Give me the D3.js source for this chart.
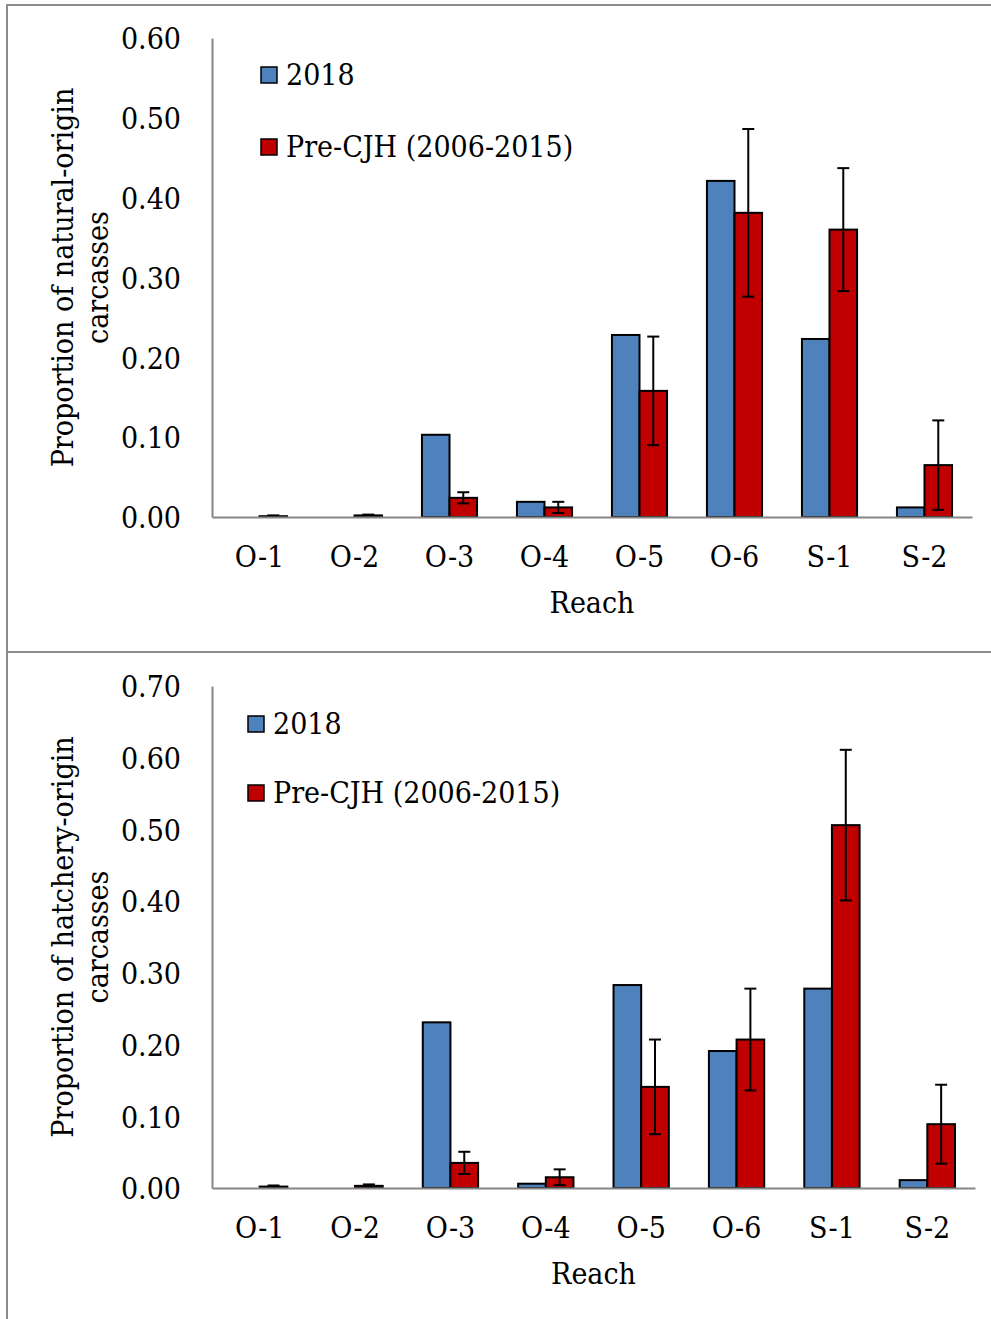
<!DOCTYPE html>
<html>
<head>
<meta charset="utf-8">
<script src="https://cdn.jsdelivr.net/npm/d3@7"></script>
<style>
  html, body { margin: 0; padding: 0; background: #fff; }
  svg { display: block; }
  text { font-family: "DejaVu Serif", serif; font-stretch: condensed; fill: #000; }
</style>
</head>
<body>
<svg id="chart" width="991" height="1319"></svg>
<script>
// Reaches along the river
const reaches = ["O-1", "O-2", "O-3", "O-4", "O-5", "O-6", "S-1", "S-2"];
const seriesNames = ["2018", "Pre-CJH (2006-2015)"];

// Natural-origin carcasses: proportion by reach
const natural2018 = [0, 0, 0.103, 0.019, 0.228, 0.421, 0.223, 0.012];
const naturalPre = [0.001, 0.002, 0.024, 0.012, 0.158, 0.381, 0.360, 0.065];
const naturalPreErr = [0.001, 0.001, 0.007, 0.007, 0.068, 0.105, 0.077, 0.056];
const naturalTicks = [0, 0.1, 0.2, 0.3, 0.4, 0.5, 0.6];

// Hatchery-origin carcasses: proportion by reach
const hatchery2018 = [0, 0, 0.231, 0.006, 0.283, 0.191, 0.278, 0.011];
const hatcheryPre = [0.002, 0.003, 0.035, 0.015, 0.141, 0.207, 0.506, 0.089];
const hatcheryPreErr = [0.0015, 0.002, 0.0155, 0.011, 0.066, 0.071, 0.105, 0.055];
const hatcheryTicks = [0, 0.1, 0.2, 0.3, 0.4, 0.5, 0.6, 0.7];

const colors = ["#4F81BD", "#C00000"];
const fontSize = 30;

const svg = d3.select("#chart");

// Panel frames
svg.append("rect")
  .attr("x", 7).attr("y", 5).attr("width", 1000).attr("height", 647)
  .attr("fill", "none").attr("stroke", "#8c8c8c").attr("stroke-width", 2);
svg.append("rect")
  .attr("x", 7).attr("y", 652).attr("width", 1000).attr("height", 700)
  .attr("fill", "none").attr("stroke", "#8c8c8c").attr("stroke-width", 2);

function drawPanel(cfg) {
  const g = svg.append("g");
  const x = d3.scaleBand().domain(reaches).range([cfg.left, cfg.right])
    .paddingInner(0.42).paddingOuter(0.21);
  const xs = d3.scaleBand().domain(seriesNames).range([0, x.bandwidth()]);
  const y = d3.scaleLinear().domain([0, d3.max(cfg.ticks)]).range([cfg.bottom, cfg.top]);

  const rows = reaches.map((r, i) => ({
    reach: r,
    values: [
      { s: seriesNames[0], v: cfg.a[i], err: null },
      { s: seriesNames[1], v: cfg.b[i], err: cfg.bErr[i] }
    ]
  }));

  const groups = g.selectAll("g.reach").data(rows).join("g")
    .attr("class", "reach")
    .attr("transform", d => `translate(${x(d.reach)},0)`);

  groups.selectAll("rect").data(d => d.values.filter(v => v.v > 0)).join("rect")
    .attr("x", d => xs(d.s))
    .attr("y", d => y(d.v))
    .attr("width", xs.bandwidth())
    .attr("height", d => y(0) - y(d.v))
    .attr("fill", d => colors[seriesNames.indexOf(d.s)])
    .attr("stroke", "#000").attr("stroke-width", 2);

  // Error bars on the pre-CJH series
  const eb = groups.selectAll("g.err").data(d => d.values.filter(v => v.err != null)).join("g")
    .attr("class", "err")
    .attr("transform", d => `translate(${xs(d.s) + xs.bandwidth() / 2},0)`);
  eb.append("line")
    .attr("y1", d => y(d.v + d.err)).attr("y2", d => y(Math.max(0, d.v - d.err)))
    .attr("stroke", "#000").attr("stroke-width", 2);
  eb.append("line")
    .attr("x1", -6).attr("x2", 6)
    .attr("y1", d => y(d.v + d.err)).attr("y2", d => y(d.v + d.err))
    .attr("stroke", "#000").attr("stroke-width", 2);
  eb.append("line")
    .attr("x1", -6).attr("x2", 6)
    .attr("y1", d => y(Math.max(0, d.v - d.err))).attr("y2", d => y(Math.max(0, d.v - d.err)))
    .attr("stroke", "#000").attr("stroke-width", 2);

  // Y axis
  const yAxis = d3.axisLeft(y).tickValues(cfg.ticks).tickFormat(d3.format(".2f")).tickSize(0).tickPadding(31);
  const ya = g.append("g").attr("transform", `translate(${cfg.left},0)`).call(yAxis);
  ya.select(".domain").attr("stroke", "#868686").attr("stroke-width", 2);
  ya.selectAll("text").attr("font-size", fontSize).attr("font-family", null).attr("dy", "0.36em");

  // X axis
  const xAxis = d3.axisBottom(x).tickSize(0).tickPadding(29).tickSizeOuter(0);
  const xa = g.append("g").attr("transform", `translate(0,${cfg.bottom})`).call(xAxis);
  xa.select(".domain").attr("stroke", "#868686").attr("stroke-width", 2);
  xa.selectAll("text").attr("font-size", fontSize).attr("font-family", null).attr("dy", "0.71em");

  g.append("text")
    .attr("x", (cfg.left + cfg.right) / 2).attr("y", cfg.bottom + 96)
    .attr("text-anchor", "middle").attr("font-size", fontSize)
    .text("Reach");

  // Y title on two lines
  const cy = (cfg.top + cfg.bottom) / 2;
  const t = g.append("text")
    .attr("transform", `translate(73,${cy}) rotate(-90)`)
    .attr("text-anchor", "middle").attr("font-size", fontSize);
  t.append("tspan").attr("x", 0).attr("y", 0).text(cfg.title[0]);
  t.append("tspan").attr("x", 0).attr("y", 35).text(cfg.title[1]);

  // Legend
  const lg = g.append("g").attr("transform", `translate(${cfg.legendX},${cfg.legendY})`);
  seriesNames.forEach((s, i) => {
    lg.append("rect")
      .attr("x", 0).attr("y", i * cfg.legendGap - 18)
      .attr("width", 16).attr("height", 16)
      .attr("fill", colors[i]).attr("stroke", "#000").attr("stroke-width", 1.5);
    lg.append("text")
      .attr("x", 25).attr("y", i * cfg.legendGap)
      .attr("font-size", fontSize).text(s);
  });
}

drawPanel({
  left: 212, right: 972, top: 38, bottom: 517,
  ticks: naturalTicks, a: natural2018, b: naturalPre, bErr: naturalPreErr,
  title: ["Proportion of natural-origin", "carcasses"],
  legendX: 261, legendY: 85, legendGap: 72
});

drawPanel({
  left: 212, right: 975, top: 686, bottom: 1188,
  ticks: hatcheryTicks, a: hatchery2018, b: hatcheryPre, bErr: hatcheryPreErr,
  title: ["Proportion of hatchery-origin", "carcasses"],
  legendX: 248, legendY: 734, legendGap: 69
});
</script>
</body>
</html>
